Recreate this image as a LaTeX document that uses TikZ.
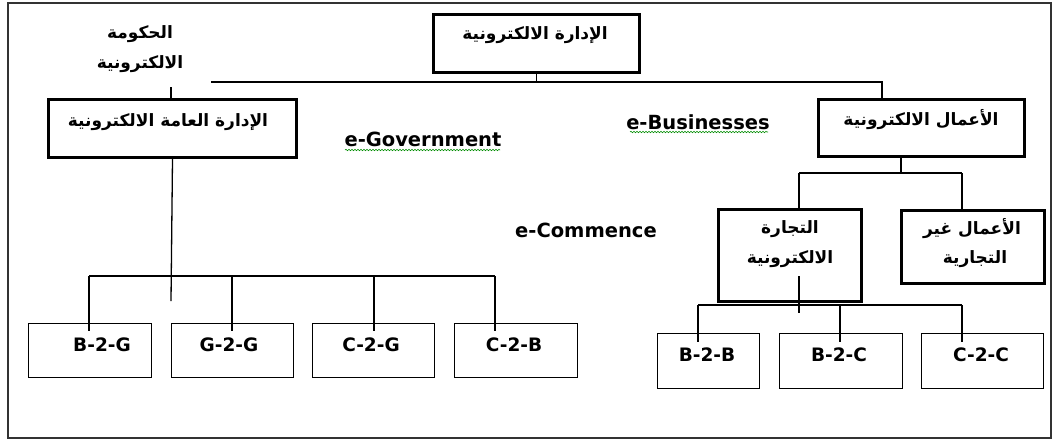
\documentclass[tikz,border=0pt]{standalone}
\usepackage{fontspec}
\setmainfont{DejaVu Sans}
\newfontfamily\arabicfont[Script=Arabic]{DejaVu Sans}
\TeXXeTstate=1
\usetikzlibrary{decorations.pathmorphing}
\begin{document}
\begin{tikzpicture}[x=1pt,y=-1pt,
  thickbox/.style={draw, line width=3pt, inner sep=0pt, anchor=north west},
  thinbox/.style={draw, line width=1.3pt, inner sep=0pt, anchor=north west},
  conn/.style={line width=1.3pt},
  lat/.style={font=\fontsize{18.5}{20}\selectfont\bfseries, inner sep=0pt},
  elab/.style={font=\fontsize{19.5}{21}\selectfont\bfseries, inner sep=0pt},
  ar/.style={font=\arabicfont\fontsize{17}{19}\selectfont\bfseries, inner sep=0pt, yshift=-2pt},
  squig/.style={draw=green!55!black, line width=0.6pt, decorate, decoration={snake, segment length=3pt, amplitude=0.7pt}}
]
\useasboundingbox (0,0) rectangle (1053,440);
\draw[line width=1.3pt, black!80] (8,3) rectangle (1051,438);

% boxes
\node[thickbox, minimum width=206pt, minimum height=58pt] (top) at (432,13) {};
\node[thickbox, minimum width=248pt, minimum height=58pt] (lbox) at (47,98) {};
\node[thickbox, minimum width=206pt, minimum height=57pt] (rbox) at (817,98) {};
\node[thickbox, minimum width=143pt, minimum height=92pt] (tbox) at (717,208) {};
\node[thickbox, minimum width=143pt, minimum height=73pt] (nbox) at (900,209) {};

\node[thinbox, minimum width=123pt, minimum height=54pt] (b2g) at (28,323) {};
\node[thinbox, minimum width=122pt, minimum height=54pt] (g2g) at (171,323) {};
\node[thinbox, minimum width=122pt, minimum height=54pt] (c2g) at (312,323) {};
\node[thinbox, minimum width=123pt, minimum height=54pt] (c2b) at (454,323) {};
\node[thinbox, minimum width=102pt, minimum height=55pt] (b2b) at (657,333) {};
\node[thinbox, minimum width=123pt, minimum height=55pt] (b2c) at (779,333) {};
\node[thinbox, minimum width=122pt, minimum height=55pt] (c2c) at (921,333) {};

% texts
\node[ar] (ttop) at (535,33) {\beginR الإدارة الالكترونية\endR};
\node[ar] (tgov1) at (140,32) {\beginR الحكومة\endR};
\node[ar] (tgov2) at (140,62) {\beginR الالكترونية\endR};
\node[ar] (tl) at (168,120) {\beginR الإدارة العامة الالكترونية\endR};
\node[ar] (tr) at (921,118) {\beginR الأعمال الالكترونية\endR};
\node[ar] (tt1) at (790,227) {\beginR التجارة\endR};
\node[ar] (tt2) at (790,257) {\beginR الالكترونية\endR};
\node[ar] (tn1) at (972,227) {\beginR الأعمال غير\endR};
\node[ar] (tn2) at (975,257) {\beginR التجارية\endR};

\node[elab] (egov) at (423,139) {e-Government};
\node[elab] (ebus) at (698,122) {e-Businesses};
\node[elab] (ecom) at (586,230) {e-Commence};
\draw[squig] (345,150) -- (500,150);
\draw[squig] (630,132) -- (768,132);

\node[lat] at (102,345) {B-2-G};
\node[lat] at (229,345) {G-2-G};
\node[lat] at (371,345) {C-2-G};
\node[lat] at (514,345) {C-2-B};
\node[lat] at (707,355) {B-2-B};
\node[lat] at (839,355) {B-2-C};
\node[lat] at (981,355) {C-2-C};

% top connectors
\coordinate (hL) at (211,82);
\coordinate (hR) at (882,82);
\draw[conn] (top.south) -- (top.south |- hL);
\draw[conn] (hL) -- (hR) -- (hR |- rbox.north);

% government branch
\coordinate (gstub) at (171,87);
\draw[conn] (gstub) -- (gstub |- lbox.north);
\coordinate (gend) at (171,301);
\draw[conn] (lbox.south) -- (gend);
\coordinate (gL) at (89,276);
\coordinate (gR) at (495,276);
\draw[conn] (gL) -- (gR);
\coordinate (d1) at (89,331);
\coordinate (d2) at (232,331);
\coordinate (d3) at (374,331);
\coordinate (d4) at (495,331);
\draw[conn] (gL) -- (d1);
\draw[conn] (d2 |- gL) -- (d2);
\draw[conn] (d3 |- gL) -- (d3);
\draw[conn] (gR) -- (d4);

% business branch
\coordinate (rmid) at (901,173);
\draw[conn] (rbox.south -| rmid) -- (rmid);
\coordinate (rL) at (799,173);
\coordinate (rR) at (962,173);
\draw[conn] (rL) -- (rR);
\draw[conn] (rL) -- (rL |- tbox.north);
\draw[conn] (rR) -- (rR |- nbox.north);

% commerce branch
\coordinate (ts1) at (799,276);
\coordinate (ts2) at (799,313);
\draw[conn] (ts1) -- (ts2);
\coordinate (cL) at (698,305);
\coordinate (cR) at (962,305);
\draw[conn] (cL) -- (cR);
\coordinate (e1) at (698,342);
\coordinate (e2) at (840,342);
\coordinate (e3) at (962,342);
\draw[conn] (cL) -- (e1);
\draw[conn] (e2 |- cL) -- (e2);
\draw[conn] (cR) -- (e3);
\end{tikzpicture}
\end{document}
